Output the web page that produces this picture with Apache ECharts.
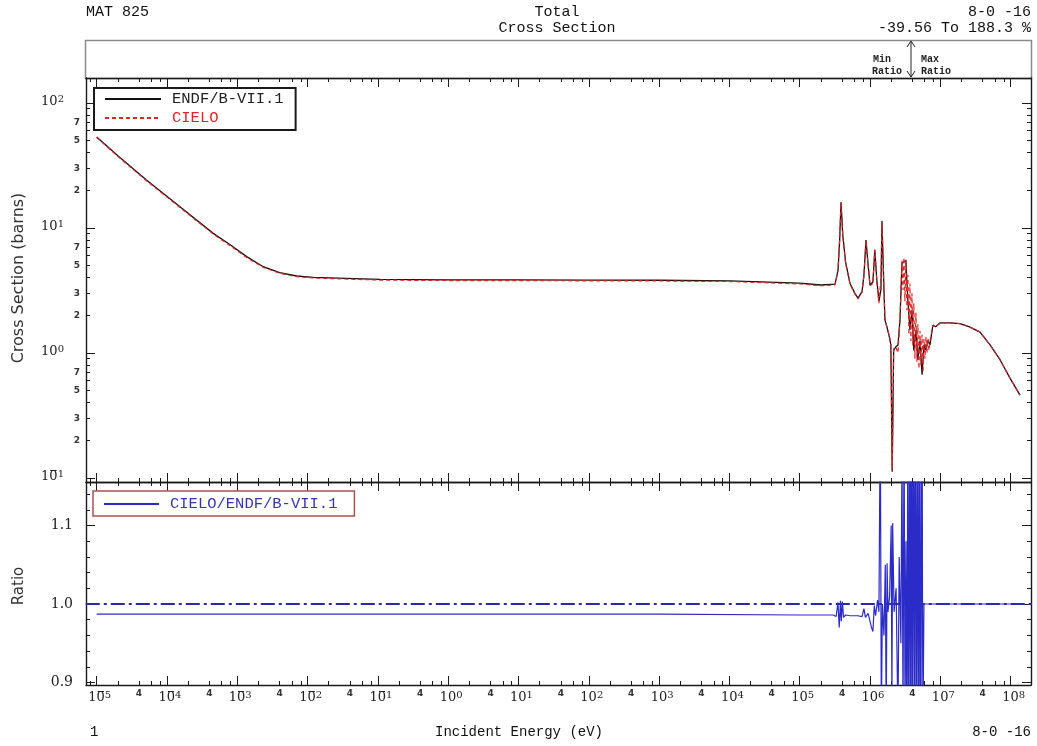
<!DOCTYPE html>
<html><head><meta charset="utf-8">
<script src="https://cdn.jsdelivr.net/npm/echarts@6/dist/echarts.min.js"></script>
<style>html,body{margin:0;padding:0;background:#fff}#c{width:1037px;height:746px}</style>
</head><body><div id="c"></div>
<script>
// ======== DATA ========
// ENDF/B-VII.1 total cross section (barns) vs incident energy (eV)
const endfE = [1e-5, 2e-5, 5.1e-5, 1.53e-4, 4.5e-4, 8e-4, 1.36e-3, 2.34e-3, 4e-3, 7e-3, 1.2e-2, 0.107, 1, 10, 100, 1e3, 1e4, 1e5, 2e5, 3.18e5, 3.51e5, 3.7e5, 3.87e5, 4.1e5, 4.5e5, 5.2e5, 6.1e5, 6.74e5, 7.7e5, 8.2e5, 8.77e5, 9.4e5, 1.0e6, 1.1e6, 1.17e6, 1.25e6, 1.34e6, 1.43e6, 1.48e6, 1.55e6, 1.63e6, 1.74e6, 1.86e6, 1.98e6, 2.07e6, 2.17e6, 2.33e6, 2.5e6, 2.67e6, 2.85e6, 3.04e6, 3.24e6, 3.46e6, 3.7e6, 3.95e6, 4.2e6, 4.5e6, 4.8e6, 5.14e6, 5.5e6, 5.85e6, 6.25e6, 6.68e6, 7.13e6, 7.84e6, 8.6e6, 9.9e6, 1.37e7, 1.9e7, 2.6e7, 3.67e7, 5.1e7, 7.1e7, 9.8e7, 1.36e8];
const endfXS = [53.5, 37.9, 24.2, 14.8, 9.1, 7.3, 5.9, 4.9, 4.4, 4.13, 4.03, 3.88, 3.85, 3.84, 3.83, 3.82, 3.78, 3.62, 3.5, 3.55, 4.6, 8.0, 16.1, 8.8, 5.3, 3.6, 3.0, 2.75, 3.1, 4.2, 8.0, 5.1, 3.5, 3.7, 6.7, 3.85, 2.6, 3.2, 11.4, 4.6, 1.84, 1.62, 1.39, 1.16, 0.112, 1.05, 1.12, 1.16, 1.84, 5.25, 5.1, 5.5, 2.6, 1.53, 2.2, 1.05, 1.53, 0.88, 1.26, 0.67, 1.16, 1.05, 1.26, 1.16, 1.67, 1.62, 1.74, 1.74, 1.72, 1.62, 1.47, 1.16, 0.88, 0.63, 0.46];

// CIELO total cross section (barns)
const cieloE = [1e-5, 2e-5, 5.1e-5, 1.53e-4, 4.5e-4, 8e-4, 1.36e-3, 2.34e-3, 4e-3, 7e-3, 1.2e-2, 0.107, 1, 10, 100, 1e3, 1e4, 1e5, 2e5, 3.18e5, 3.51e5, 3.7e5, 3.87e5, 4.1e5, 4.5e5, 5.2e5, 6.1e5, 6.74e5, 7.7e5, 8.2e5, 8.77e5, 9.4e5, 1.0e6, 1.1e6, 1.17e6, 1.25e6, 1.34e6, 1.43e6, 1.48e6, 1.55e6, 1.63e6, 1.74e6, 1.86e6, 1.98e6, 2.07e6, 2.17e6, 2.33e6, 2.5e6, 2.67e6, 2.85e6, 2.95e6, 3.04e6, 3.14e6, 3.24e6, 3.35e6, 3.46e6, 3.58e6, 3.7e6, 3.82e6, 3.95e6, 4.07e6, 4.2e6, 4.35e6, 4.5e6, 4.65e6, 4.8e6, 4.97e6, 5.14e6, 5.3e6, 5.5e6, 5.68e6, 5.85e6, 6.05e6, 6.25e6, 6.45e6, 6.68e6, 6.9e6, 7.13e6, 7.84e6, 8.6e6, 9.9e6, 1.37e7, 1.9e7, 2.6e7, 3.67e7, 5.1e7, 7.1e7, 9.8e7, 1.36e8];
const cieloXS = [53.0, 37.4, 23.9, 14.6, 9.0, 7.2, 5.8, 4.84, 4.35, 4.08, 3.98, 3.83, 3.8, 3.79, 3.78, 3.77, 3.73, 3.57, 3.45, 3.5, 4.6, 8.0, 16.0, 8.7, 5.2, 3.55, 2.96, 2.71, 3.05, 4.2, 7.9, 5.0, 3.45, 3.6, 6.7, 3.75, 2.5, 4.0, 11.0, 4.4, 1.9, 1.6, 1.42, 1.2, 0.115, 1.08, 1.12, 1.0, 1.9, 5.5, 3.2, 5.8, 2.6, 5.6, 2.2, 4.2, 1.4, 3.6, 1.25, 3.0, 1.15, 2.5, 0.9, 2.1, 0.85, 1.7, 0.75, 1.5, 0.8, 1.4, 0.7, 1.3, 0.9, 1.35, 1.0, 1.3, 1.05, 1.25, 1.67, 1.62, 1.74, 1.74, 1.72, 1.62, 1.47, 1.16, 0.88, 0.63, 0.46];

// Ratio CIELO / ENDF/B-VII.1
const ratioE = [1e-5, 1e-2, 1e3, 1e5, 3e5, 3.3e5, 3.5e5, 3.65e5, 3.8e5, 3.9e5, 4.05e5, 4.2e5, 4.5e5, 5.2e5, 6.7e5, 7.7e5, 8.2e5, 8.6e5, 9.4e5, 1.05e6, 1.1e6, 1.15e6, 1.2e6, 1.28e6, 1.34e6, 1.4e6, 1.45e6, 1.5e6, 1.58e6, 1.65e6, 1.7e6, 1.75e6, 1.8e6, 1.9e6, 2.0e6, 2.05e6, 2.1e6, 2.2e6, 2.35e6, 2.5e6, 2.6e6, 2.75e6, 2.85e6, 2.95e6, 3.05e6, 3.15e6, 3.25e6, 3.35e6, 3.46e6, 3.52e6, 3.58e6, 3.64e6, 3.7e6, 3.76e6, 3.82e6, 3.88e6, 3.95e6, 4.01e6, 4.07e6, 4.14e6, 4.2e6, 4.28e6, 4.35e6, 4.42e6, 4.5e6, 4.58e6, 4.65e6, 4.72e6, 4.8e6, 4.88e6, 4.97e6, 5.05e6, 5.14e6, 5.22e6, 5.3e6, 5.4e6, 5.5e6, 5.6e6, 5.68e6, 5.85e6, 1e7, 1.5e8];
const ratioV = [0.987, 0.987, 0.987, 0.986, 0.986, 0.984, 1.002, 0.970, 1.004, 0.978, 1.003, 0.983, 0.986, 0.985, 0.985, 0.984, 0.994, 0.983, 0.988, 0.970, 0.965, 0.998, 0.985, 1.005, 0.990, 1.25, 0.85, 1.0, 0.96, 1.05, 0.85, 1.052, 0.99, 1.01, 1.10, 0.88, 1.103, 0.99, 1.02, 0.85, 1.06, 0.95, 1.20, 0.85, 1.25, 0.85, 1.08, 0.80, 1.30, 0.92, 0.80, 1.12, 1.30, 0.95, 0.80, 1.2, 1.30, 0.9, 0.85, 1.15, 1.30, 0.95, 0.80, 1.2, 1.30, 0.9, 0.80, 1.1, 1.30, 0.95, 0.80, 1.15, 1.25, 0.9, 0.82, 1.1, 1.30, 0.95, 0.85, 1.0, 1.0, 1.0];

// Unity reference line
const unityE = [7e-6, 2e8];
const unityV = [1, 1];

// Tick / label values
const xMajorTicks = [1e-5, 1e-4, 1e-3, 1e-2, 1e-1, 1, 1e1, 1e2, 1e3, 1e4, 1e5, 1e6, 1e7, 1e8];
const xMinorLabels = [4e-5, 4e-4, 4e-3, 4e-2, 4e-1, 4, 4e1, 4e2, 4e3, 4e4, 4e5, 4e6, 4e7];
const xMinorMantissa = [2, 4, 6, 8];
const yMajorTicks = [0.1, 1, 10, 100];
const yMinorLabels = [0.2, 0.3, 0.5, 0.7, 2, 3, 5, 7, 20, 30, 50, 70];
const yMinorMantissa = [2, 3, 4, 5, 6, 7, 8, 9];
const ratioMajorTicks = [0.9, 1.0, 1.1];
const ratioMinorTicks = [0.92, 0.94, 0.96, 0.98, 1.02, 1.04, 1.06, 1.08, 1.12, 1.14];

// ======== layout / ranges ========
const X_MIN = 7.05e-6, X_MAX = 1.95e8;
const Y_MIN = 0.0929, Y_MAX = 158.5;
const R_MIN = 0.8968, R_MAX = 1.1554;

function minorSet(mants, lo, hi, e0, e1) {
  const out = [];
  for (let e = e0; e <= e1; e++) for (const m of mants) {
    const v = m * Math.pow(10, e);
    if (v > lo && v < hi) out.push(v);
  }
  return out;
}
const xMinorTicks = minorSet(xMinorMantissa, X_MIN, X_MAX, -6, 8);
const yMinorTicks = minorSet(yMinorMantissa, Y_MIN, Y_MAX, -2, 2);

const zip = (a, b) => a.map((v, i) => [v, b[i]]);
const INK = '#1a1a1a';
const SERIF = 'DejaVu Serif';

// small image used as the "bar over the zero" of negative exponents
const barImg = document.createElement('canvas');
barImg.width = 16; barImg.height = 28;
(function () { const g = barImg.getContext('2d'); g.fillStyle = '#222'; g.fillRect(2, 0, 12, 2); })();

function powLabel(v) {
  const e = Math.round(Math.log10(v));
  return e < 0 ? '{b|1}{z|0}{s|' + (-e) + '}' : '{b|10}{s|' + e + '}';
}
function makeRich(padLeft) {
  return {
    b: {fontFamily: SERIF, fontSize: 13, color: '#222', lineHeight: 14, verticalAlign: 'bottom', padding: [0, 0, 0, padLeft]},
    z: {fontFamily: SERIF, fontSize: 13, color: '#222', lineHeight: 14, verticalAlign: 'bottom', backgroundColor: {image: barImg}},
    s: {fontFamily: SERIF, fontSize: 10, color: '#222', lineHeight: 10, verticalAlign: 'top', padding: [0, 0, 12, 0]}
  };
}
const richX = makeRich(6);
const richY = makeRich(0);

function axis(type, grid, pos, min, max, ticks, len, showLine, label) {
  return {
    type: type, gridIndex: grid, position: pos, min: min, max: max,
    axisLine: {show: showLine, onZero: false, lineStyle: {color: INK, width: 1.4}},
    axisTick: {show: true, inside: true, length: len, customValues: ticks, lineStyle: {color: INK, width: 1}},
    axisLabel: label || {show: false},
    splitLine: {show: false}, minorTick: {show: false}, minorSplitLine: {show: false},
    axisPointer: {show: false}
  };
}

function xAxesFor(grid, withLabels) {
  const majLab = withLabels ? {show: true, customValues: xMajorTicks, formatter: powLabel, rich: richX, margin: 5} : null;
  const minLab = withLabels ? {show: true, customValues: xMinorLabels, formatter: () => '4', margin: 4,
      fontFamily: 'DejaVu Sans', fontSize: 9, fontWeight: 'bold', color: '#333'} : null;
  return [
    axis('log', grid, 'bottom', X_MIN, X_MAX, xMajorTicks, 9, true, majLab),
    axis('log', grid, 'bottom', X_MIN, X_MAX, xMinorTicks, 4, false, minLab),
    axis('log', grid, 'top', X_MIN, X_MAX, xMajorTicks, 9, true, null),
    axis('log', grid, 'top', X_MIN, X_MAX, xMinorTicks, 4, false, null)
  ];
}

const yAxes = [
  axis('log', 0, 'left', Y_MIN, Y_MAX, yMajorTicks, 9, true,
    {show: true, customValues: yMajorTicks, formatter: powLabel, rich: richY, margin: 22, padding: [0, 0, 4, 0]}),
  axis('log', 0, 'left', Y_MIN, Y_MAX, yMinorTicks, 4, false,
    {show: true, customValues: yMinorLabels, margin: 6, fontFamily: 'DejaVu Sans', fontSize: 9, fontWeight: 'bold', color: '#333',
     formatter: v => String(Math.round(v / Math.pow(10, Math.floor(Math.log10(v) + 1e-9))))}),
  axis('log', 0, 'right', Y_MIN, Y_MAX, yMajorTicks, 9, true, null),
  axis('log', 0, 'right', Y_MIN, Y_MAX, yMinorTicks, 4, false, null),
  axis('value', 1, 'left', R_MIN, R_MAX, ratioMajorTicks, 9, true,
    {show: true, customValues: ratioMajorTicks, formatter: v => v.toFixed(1), margin: 13, fontFamily: SERIF, fontSize: 14, color: '#222'}),
  axis('value', 1, 'left', R_MIN, R_MAX, ratioMinorTicks, 4, false, null),
  axis('value', 1, 'right', R_MIN, R_MAX, ratioMajorTicks, 9, true, null),
  axis('value', 1, 'right', R_MIN, R_MAX, ratioMinorTicks, 4, false, null)
];

const HDR = '"Liberation Mono", "DejaVu Sans Mono", monospace';
function txt(x, y, text, align, font, color) {
  return {type: 'text', x: x, y: y, silent: true,
    style: {text: text, align: align, verticalAlign: 'middle', font: font, fill: color || '#111'}};
}

const legendSymbolHidden = {opacity: 0, color: 'transparent', borderColor: 'transparent', borderWidth: 0};

const option = {
  animation: false,
  backgroundColor: '#fff',
  grid: [
    {left: 86, top: 78, width: 945, height: 404},
    {left: 86, top: 482, width: 945, height: 203}
  ],
  xAxis: xAxesFor(0, false).concat(xAxesFor(1, true)),
  yAxis: yAxes,
  legend: [
    {left: 94, top: 88, orient: 'vertical', selectedMode: false, backgroundColor: '#fff',
     borderColor: INK, borderWidth: 2, padding: [3, 12, 4, 10], itemWidth: 56, itemHeight: 14, itemGap: 3,
     itemStyle: legendSymbolHidden,
     textStyle: {fontFamily: 'Liberation Mono', fontSize: 15.5, padding: [0, 0, 0, 6]},
     data: [{name: 'ENDF/B-VII.1', textStyle: {color: '#222'}}, {name: 'CIELO', textStyle: {color: '#e02424'}}]},
    {left: 93, top: 491, orient: 'vertical', selectedMode: false, backgroundColor: '#fff',
     borderColor: '#a5544f', borderWidth: 1.5, padding: [5, 17, 4, 10], itemWidth: 55, itemHeight: 14,
     itemStyle: legendSymbolHidden,
     textStyle: {fontFamily: 'Liberation Mono', fontSize: 15.5, padding: [0, 0, 0, 6]},
     data: [{name: 'CIELO/ENDF/B-VII.1', textStyle: {color: '#3535b5'}}]}
  ],
  series: [
    {name: 'ENDF/B-VII.1', type: 'line', xAxisIndex: 0, yAxisIndex: 0, data: zip(endfE, endfXS),
     symbol: 'none', showSymbol: false, lineStyle: {color: '#111', width: 1.3}, itemStyle: {color: '#111'}},
    {name: 'CIELO', type: 'line', xAxisIndex: 0, yAxisIndex: 0, data: zip(cieloE, cieloXS),
     symbol: 'none', showSymbol: false, lineStyle: {color: '#e02424', width: 1.2, type: [4, 3]}, itemStyle: {color: '#e02424'}},
    {name: 'unity', type: 'line', xAxisIndex: 4, yAxisIndex: 4, data: zip(unityE, unityV),
     symbol: 'none', showSymbol: false, lineStyle: {color: '#2a2aa8', width: 2, type: [14, 4, 3, 4]}, itemStyle: {color: '#2a2aa8'}},
    {name: 'CIELO/ENDF/B-VII.1', type: 'line', xAxisIndex: 4, yAxisIndex: 4, data: zip(ratioE, ratioV),
     symbol: 'none', showSymbol: false, lineStyle: {color: '#2b2bc8', width: 1.2}, itemStyle: {color: '#2b2bc8'}}
  ],
  graphic: [
    {type: 'rect', silent: true, shape: {x: 85.5, y: 40.5, width: 946, height: 38}, style: {fill: 'none', stroke: '#8a8a8a', lineWidth: 1.5}},
    {type: 'line', silent: true, shape: {x1: 911, y1: 42, x2: 911, y2: 77}, style: {stroke: '#222', lineWidth: 1}},
    {type: 'polyline', silent: true, shape: {points: [[907, 47], [911, 41], [915, 47]]}, style: {stroke: '#222', fill: 'none', lineWidth: 1}},
    {type: 'polyline', silent: true, shape: {points: [[907, 71], [911, 77], [915, 71]]}, style: {stroke: '#222', fill: 'none', lineWidth: 1}},
    txt(873, 59, 'Min', 'left', 'bold 10px "Liberation Mono"', '#222'),
    txt(872, 71, 'Ratio', 'left', 'bold 10px "Liberation Mono"', '#222'),
    txt(921, 59, 'Max', 'left', 'bold 10px "Liberation Mono"', '#222'),
    txt(921, 71, 'Ratio', 'left', 'bold 10px "Liberation Mono"', '#222'),
    txt(86, 12, 'MAT 825', 'left', '15px ' + HDR),
    txt(557, 12, 'Total', 'center', '15px ' + HDR),
    txt(557, 28, 'Cross Section', 'center', '15px ' + HDR),
    txt(1031, 12, '8-0 -16', 'right', '15px ' + HDR),
    txt(1031, 28, '-39.56 To 188.3 %', 'right', '15px ' + HDR),
    txt(90, 732, '1', 'left', '14px ' + HDR),
    txt(519, 732, 'Incident Energy (eV)', 'center', '14px ' + HDR),
    txt(1031, 732, '8-0 -16', 'right', '14px ' + HDR),
    {type: 'text', silent: true, x: 19, y: 278, rotation: Math.PI / 2,
     style: {text: 'Cross Section (barns)', align: 'center', verticalAlign: 'middle', font: '16px "DejaVu Sans"', fill: '#333'}},
    {type: 'text', silent: true, x: 19, y: 586, rotation: Math.PI / 2,
     style: {text: 'Ratio', align: 'center', verticalAlign: 'middle', font: '15px "DejaVu Sans"', fill: '#333'}}
  ]
};

const chart = echarts.init(document.getElementById('c'), null, {renderer: 'canvas'});
chart.setOption(option);
</script>
</body></html>
